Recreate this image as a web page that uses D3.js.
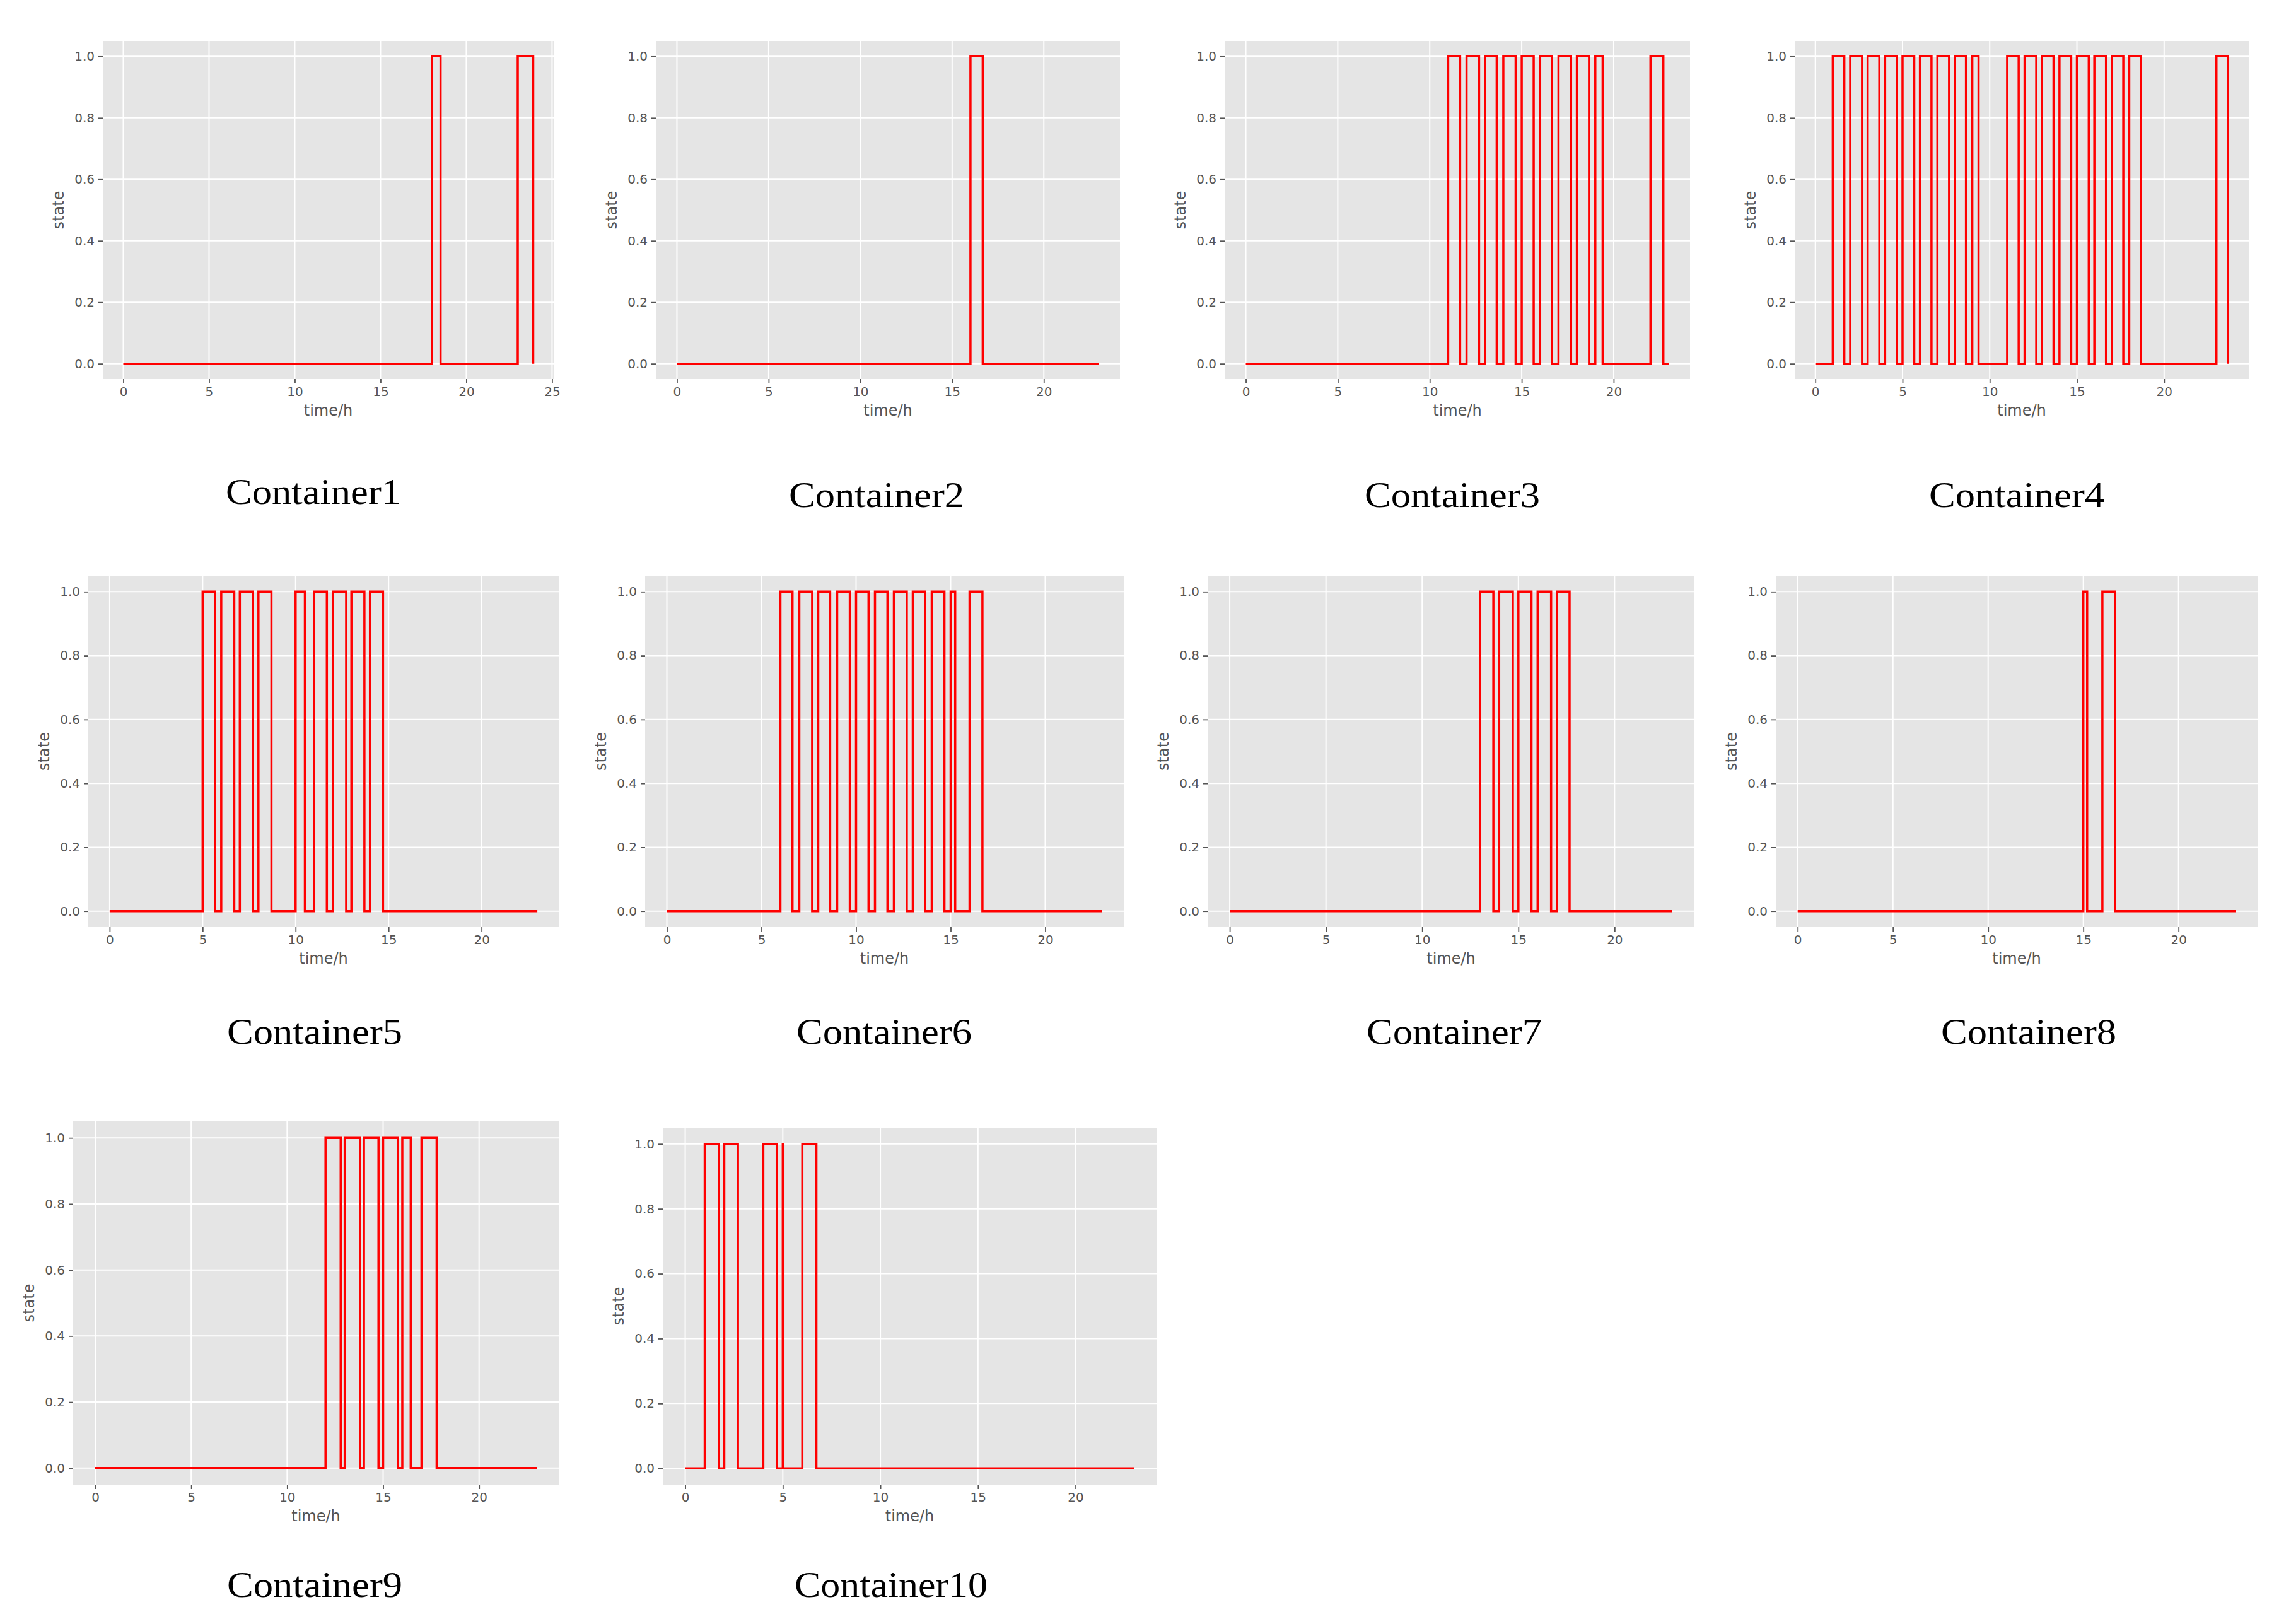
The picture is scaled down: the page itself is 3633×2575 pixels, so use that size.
<!DOCTYPE html>
<html>
<head>
<meta charset="utf-8">
<script src="https://cdn.jsdelivr.net/npm/d3@7"></script>
<style>
  html, body { margin: 0; padding: 0; background: #ffffff; }
  svg { display: block; }
</style>
</head>
<body>
<svg id="chart" width="3633" height="2575"></svg>
<script>
// ---------------- DATA ----------------
const containerNames = ["Container1","Container2","Container3","Container4","Container5",
                        "Container6","Container7","Container8","Container9","Container10"];

const time1  = [0, 18, 18.5, 23, 23.9];
const state1 = [0, 1, 0, 1, 0];

const time2  = [0, 16, 16.67, 23];
const state2 = [0, 1, 0, 0];

const time3  = [0, 11, 11.65, 12, 12.68, 13, 13.64, 14, 14.67, 15, 15.65, 16, 16.65, 17, 17.68, 18, 18.66, 19, 19.4, 22, 22.7, 23];
const state3 = [0, 1, 0, 1, 0, 1, 0, 1, 0, 1, 0, 1, 0, 1, 0, 1, 0, 1, 0, 1, 0, 0];

const time4  = [0, 1, 1.66, 2, 2.68, 3, 3.67, 4, 4.68, 5, 5.67, 6, 6.66, 7, 7.67, 8, 8.64, 9, 9.36,
                11, 11.66, 12, 12.67, 13, 13.66, 14, 14.67, 15, 15.68, 16, 16.67, 17, 17.66, 18, 18.67, 23, 23.67];
const state4 = [0, 1, 0, 1, 0, 1, 0, 1, 0, 1, 0, 1, 0, 1, 0, 1, 0, 1, 0,
                1, 0, 1, 0, 1, 0, 1, 0, 1, 0, 1, 0, 1, 0, 1, 0, 1, 0];

const time5  = [0, 5, 5.66, 6, 6.7, 7, 7.7, 8, 8.7, 10, 10.5, 11, 11.68, 12, 12.72, 13, 13.7, 14, 14.7, 23];
const state5 = [0, 1, 0, 1, 0, 1, 0, 1, 0, 1, 0, 1, 0, 1, 0, 1, 0, 1, 0, 0];

const time6  = [0, 6, 6.64, 7, 7.68, 8, 8.63, 9, 9.67, 10, 10.66, 11, 11.66, 12, 12.68, 13, 13.65, 14, 14.67, 15, 15.24, 16, 16.68, 23];
const state6 = [0, 1, 0, 1, 0, 1, 0, 1, 0, 1, 0, 1, 0, 1, 0, 1, 0, 1, 0, 1, 0, 1, 0, 0];

const time7  = [0, 13, 13.7, 14, 14.71, 15, 15.68, 16, 16.7, 17, 17.66, 23];
const state7 = [0, 1, 0, 1, 0, 1, 0, 1, 0, 1, 0, 0];

const time8  = [0, 15, 15.2, 16, 16.67, 23];
const state8 = [0, 1, 0, 1, 0, 0];

const time9  = [0, 12, 12.79, 13, 13.8, 14, 14.76, 15, 15.77, 16, 16.44, 17, 17.79, 23];
const state9 = [0, 1, 0, 1, 0, 1, 0, 1, 0, 1, 0, 1, 0, 0];

const time10  = [0, 1, 1.72, 2, 2.7, 4, 4.69, 5, 5.03, 6, 6.72, 23];
const state10 = [0, 1, 0, 1, 0, 1, 0, 1, 0, 1, 0, 0];

const xTickValues = [0, 5, 10, 15, 20, 25];
const yTickValues = [0, 0.2, 0.4, 0.6, 0.8, 1.0];
const xAxisLabel = "time/h";
const yAxisLabel = "state";

const allTimes  = [time1, time2, time3, time4, time5, time6, time7, time8, time9, time10];
const allStates = [state1, state2, state3, state4, state5, state6, state7, state8, state9, state10];

// ---------------- LAYOUT (pixels) ----------------
// [left, right, top, bottom] of each plotting area, and title centre
const panelBoxes = [
  [163, 878, 65, 601],
  [1040, 1776, 65, 601],
  [1942, 2680, 65, 601],
  [2846, 3566, 65, 601],
  [140, 886, 913, 1470],
  [1023, 1782, 913, 1470],
  [1915, 2687, 913, 1470],
  [2816, 3580, 913, 1470],
  [116, 886, 1778, 2354],
  [1051, 1834, 1788, 2354]
];
const titleCentres = [
  [497, 780], [1390, 785], [2303, 785], [3198, 785],
  [499, 1636], [1402, 1636], [2306, 1636], [3217, 1636],
  [499, 2513], [1413, 2513]
];

// ---------------- DRAW ----------------
const svg = d3.select("#chart");
const BG = "#E5E5E5", GRID = "#FFFFFF", TXT = "#555555";

containerNames.forEach((name, i) => {
  const [L, R, T, B] = panelBoxes[i];
  const t = allTimes[i], s = allStates[i];
  const tMin = d3.min(t), tMax = d3.max(t), span = tMax - tMin;
  const x = d3.scaleLinear().domain([tMin - 0.05 * span, tMax + 0.05 * span]).range([L, R]);
  const y = d3.scaleLinear().domain([-0.05, 1.05]).range([B, T]);
  const xt = xTickValues.filter(v => v >= x.domain()[0] && v <= x.domain()[1]);

  const g = svg.append("g");
  g.append("rect").attr("x", L).attr("y", T).attr("width", R - L).attr("height", B - T).attr("fill", BG);

  // grid
  g.selectAll(".gx").data(xt).enter().append("line")
    .attr("x1", d => x(d)).attr("x2", d => x(d)).attr("y1", T).attr("y2", B)
    .attr("stroke", GRID).attr("stroke-width", 2);
  g.selectAll(".gy").data(yTickValues).enter().append("line")
    .attr("y1", d => y(d)).attr("y2", d => y(d)).attr("x1", L).attr("x2", R)
    .attr("stroke", GRID).attr("stroke-width", 2);

  // axes
  const xa = g.append("g").attr("transform", `translate(0,${B})`)
    .call(d3.axisBottom(x).tickValues(xt).tickFormat(d3.format("d")).tickSize(7).tickPadding(6));
  const ya = g.append("g").attr("transform", `translate(${L},0)`)
    .call(d3.axisLeft(y).tickValues(yTickValues).tickFormat(d3.format(".1f")).tickSize(7).tickPadding(6));
  [xa, ya].forEach(a => {
    a.select(".domain").remove();
    a.selectAll(".tick line").attr("stroke", TXT).attr("stroke-width", 1.8);
    a.selectAll(".tick text").attr("fill", TXT)
      .style("font-family", "'DejaVu Sans', sans-serif").style("font-size", "20px");
  });

  // axis labels
  g.append("text").attr("x", (L + R) / 2).attr("y", B + 58)
    .attr("text-anchor", "middle").attr("fill", TXT)
    .style("font-family", "'DejaVu Sans', sans-serif").style("font-size", "24px")
    .text(xAxisLabel);
  g.append("text").attr("transform", `translate(${L - 62},${(T + B) / 2}) rotate(-90)`)
    .attr("text-anchor", "middle").attr("fill", TXT)
    .style("font-family", "'DejaVu Sans', sans-serif").style("font-size", "24px")
    .text(yAxisLabel);

  // step line
  const pts = t.map((v, k) => [v, s[k]]);
  const line = d3.line().x(d => x(d[0])).y(d => y(d[1])).curve(d3.curveStepAfter);
  g.append("path").datum(pts).attr("d", line)
    .attr("fill", "none").attr("stroke", "#FF0000").attr("stroke-width", 3.5)
    .attr("stroke-linejoin", "miter");

  // title below
  const [cx, cy] = titleCentres[i];
  g.append("text").attr("x", cx).attr("y", cy)
    .attr("text-anchor", "middle").attr("dominant-baseline", "central")
    .attr("fill", "#000").attr("textLength", name.length * 27.8).attr("lengthAdjust", "spacingAndGlyphs")
    .style("font-family", "'Liberation Serif', 'DejaVu Serif', serif").style("font-size", "56px")
    .text(name);
});
</script>
</body>
</html>
